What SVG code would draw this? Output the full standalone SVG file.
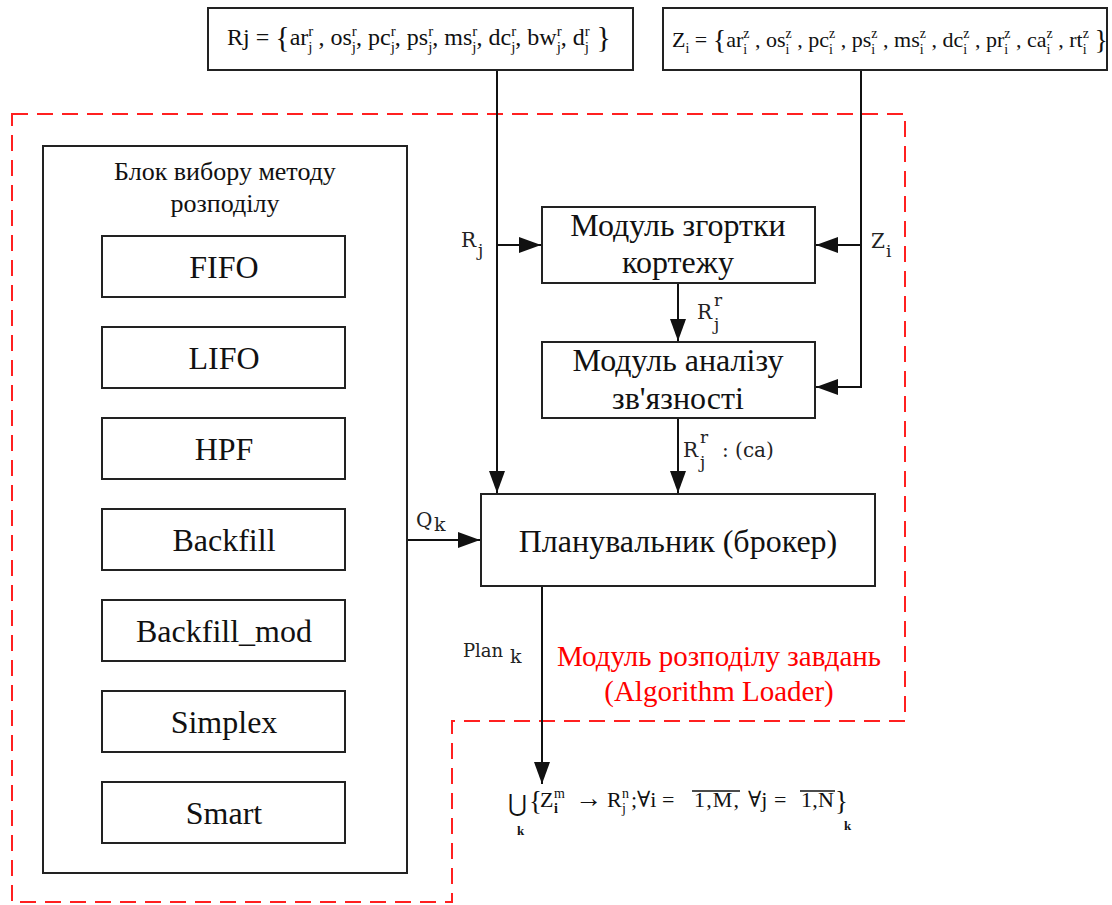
<svg xmlns="http://www.w3.org/2000/svg" width="1112" height="905" viewBox="0 0 1112 905">
<defs>
<style>
.box{fill:#fff;stroke:#222;stroke-width:2}
.ln{fill:none;stroke:#111;stroke-width:2}
</style>
<marker id="ah" viewBox="0 0 22 16" markerWidth="22" markerHeight="16" refX="22" refY="8" orient="auto" markerUnits="userSpaceOnUse">
<path d="M0,0 L22,8 L0,16 z" fill="#111"/>
</marker>
</defs>
<rect width="1112" height="905" fill="#fff"/>

<g id="boundary">
<path d="M12,114 L905,114 L905,721 L452,721 L452,902 L12,902 Z" fill="none" stroke="#ff2020" stroke-width="2" stroke-dasharray="16 9"/>
<text font-family="Liberation Serif, serif" fill="#ff0000" x="719" y="666" font-size="29" text-anchor="middle">Модуль розподілу завдань</text>
<text font-family="Liberation Serif, serif" fill="#ff0000" x="719" y="701" font-size="29" text-anchor="middle">(Algorithm Loader)</text>
</g>

<g id="connectors">
<path class="ln" d="M497,70 L497,493" marker-end="url(#ah)"/>
<path class="ln" d="M497,245 L541,245" marker-end="url(#ah)"/>
<path class="ln" d="M861,70 L861,387 L816,387" marker-end="url(#ah)"/>
<path class="ln" d="M861,245 L816,245" marker-end="url(#ah)"/>
<path class="ln" d="M678,283 L678,341" marker-end="url(#ah)"/>
<path class="ln" d="M678,418 L678,493" marker-end="url(#ah)"/>
<path class="ln" d="M407,540 L480,540" marker-end="url(#ah)"/>
<path class="ln" d="M542,586 L542,784" marker-end="url(#ah)"/>
<g font-family="DejaVu Serif, serif" fill="#222">
<text x="461" y="247" font-size="20">R</text><text x="478" y="256" font-size="17">j</text>
<text x="871" y="248" font-size="20">Z</text><text x="886" y="257" font-size="17">i</text>
<text x="697" y="319" font-size="20">R</text><text x="714" y="306" font-size="17">r</text><text x="714" y="330" font-size="17">j</text>
<text x="683" y="457" font-size="20">R</text><text x="700" y="443" font-size="17">r</text><text x="700" y="468" font-size="17">j</text>
<text x="722" y="457" font-size="20">: (ca)</text>
<text x="416" y="527" font-size="20">Q</text><text x="434" y="531" font-size="19">k</text>
<text x="463" y="657" font-size="18">Plan</text><text x="510" y="663" font-size="19">k</text>
</g>
</g>

<g id="rj-set">
<rect class="box" x="208" y="8" width="425" height="62"/>
<text font-family="Liberation Serif, serif" fill="#111" x="227" y="45" font-size="24">Rj = <tspan font-size="30" dy="2">{</tspan><tspan dy="-2">ar</tspan><tspan font-size="15" dy="-9">r</tspan><tspan font-size="15" dx="-5" dy="16">j</tspan><tspan dy="-7"> , os</tspan><tspan font-size="15" dy="-9">r</tspan><tspan font-size="15" dx="-5" dy="16">j</tspan><tspan dy="-7">, pc</tspan><tspan font-size="15" dy="-9">r</tspan><tspan font-size="15" dx="-5" dy="16">j</tspan><tspan dy="-7">, ps</tspan><tspan font-size="15" dy="-9">r</tspan><tspan font-size="15" dx="-5" dy="16">j</tspan><tspan dy="-7">, ms</tspan><tspan font-size="15" dy="-9">r</tspan><tspan font-size="15" dx="-5" dy="16">j</tspan><tspan dy="-7">, dc</tspan><tspan font-size="15" dy="-9">r</tspan><tspan font-size="15" dx="-5" dy="16">j</tspan><tspan dy="-7">, bw</tspan><tspan font-size="15" dy="-9">r</tspan><tspan font-size="15" dx="-5" dy="16">j</tspan><tspan dy="-7">, d</tspan><tspan font-size="15" dy="-9">r</tspan><tspan font-size="15" dx="-5" dy="16">j</tspan><tspan dy="-5" font-size="30"> }</tspan></text>
</g>

<g id="zi-set">
<rect class="box" x="663" y="8" width="444" height="62"/>
<text font-family="Liberation Serif, serif" fill="#111" x="672" y="47" font-size="22">Z<tspan font-size="14" dy="6">i</tspan><tspan dy="-6"> = </tspan><tspan font-size="28" dy="2">{</tspan><tspan dy="-2">ar</tspan><tspan font-size="14" dy="-9">z</tspan><tspan font-size="14" dx="-6.2" dy="16">i</tspan><tspan dx="2.3" dy="-7"> , os</tspan><tspan font-size="14" dy="-9">z</tspan><tspan font-size="14" dx="-6.2" dy="16">i</tspan><tspan dx="2.3" dy="-7"> , pc</tspan><tspan font-size="14" dy="-9">z</tspan><tspan font-size="14" dx="-6.2" dy="16">i</tspan><tspan dx="2.3" dy="-7"> , ps</tspan><tspan font-size="14" dy="-9">z</tspan><tspan font-size="14" dx="-6.2" dy="16">i</tspan><tspan dx="2.3" dy="-7"> , ms</tspan><tspan font-size="14" dy="-9">z</tspan><tspan font-size="14" dx="-6.2" dy="16">i</tspan><tspan dx="2.3" dy="-7"> , dc</tspan><tspan font-size="14" dy="-9">z</tspan><tspan font-size="14" dx="-6.2" dy="16">i</tspan><tspan dx="2.3" dy="-7"> , pr</tspan><tspan font-size="14" dy="-9">z</tspan><tspan font-size="14" dx="-6.2" dy="16">i</tspan><tspan dx="2.3" dy="-7"> , ca</tspan><tspan font-size="14" dy="-9">z</tspan><tspan font-size="14" dx="-6.2" dy="16">i</tspan><tspan dx="2.3" dy="-7"> , rt</tspan><tspan font-size="14" dy="-9">z</tspan><tspan font-size="14" dx="-6.2" dy="16">i</tspan><tspan dx="1" dy="-5" font-size="28"> }</tspan></text>
</g>

<g id="selector-block" font-family="Liberation Serif, serif" fill="#111">
<rect class="box" x="43" y="146" width="364" height="727"/>
<text x="225" y="180" font-size="26" text-anchor="middle">Блок вибору методу</text>
<text x="225" y="212" font-size="26" text-anchor="middle">розподілу</text>
</g>
<g font-family="Liberation Serif, serif" fill="#111" font-size="32" text-anchor="middle">
<g id="fifo"><rect class="box" x="102" y="236" width="243" height="61"/><text x="224" y="278">FIFO</text></g>
<g id="lifo"><rect class="box" x="102" y="327" width="243" height="61"/><text x="224" y="369">LIFO</text></g>
<g id="hpf"><rect class="box" x="102" y="418" width="243" height="61"/><text x="224" y="460">HPF</text></g>
<g id="backfill"><rect class="box" x="102" y="509" width="243" height="61"/><text x="224" y="551">Backfill</text></g>
<g id="backfill-mod"><rect class="box" x="102" y="600" width="243" height="61"/><text x="224" y="642">Backfill_mod</text></g>
<g id="simplex"><rect class="box" x="102" y="691" width="243" height="61"/><text x="224" y="733">Simplex</text></g>
<g id="smart"><rect class="box" x="102" y="782" width="243" height="61"/><text x="224" y="824">Smart</text></g>

<g id="tuple-module">
<rect class="box" x="542" y="207" width="273" height="76"/>
<text x="678" y="236">Модуль згортки</text>
<text x="678" y="273">кортежу</text>
</g>
<g id="connectivity-module">
<rect class="box" x="542" y="342" width="273" height="76"/>
<text x="678" y="371">Модуль аналізу</text>
<text x="678" y="409">зв'язності</text>
</g>
<g id="planner">
<rect class="box" x="481" y="494" width="394" height="92"/>
<text x="678" y="552">Планувальник (брокер)</text>
</g>
</g>

<g id="result" font-family="Liberation Serif, DejaVu Serif, serif" fill="#111">
<text x="508" y="811" font-size="23">⋃</text>
<text x="517" y="835" font-size="13" font-weight="bold">k</text>
<text x="529" y="810" font-size="27">{</text>
<text x="540" y="807" font-size="22">Z</text>
<text x="554" y="798" font-size="14">m</text>
<text x="554" y="813" font-size="14" font-weight="bold">i</text>
<text x="575" y="807" font-size="27">→</text>
<text x="607" y="807" font-size="22">R</text>
<text x="622" y="798" font-size="14">n</text>
<text x="622" y="813" font-size="14">j</text>
<text x="631" y="807" font-size="22">;</text>
<text x="637" y="807" font-size="22">∀i</text>
<text x="662" y="807" font-size="22">=</text>
<text x="694" y="807" font-size="22" textLength="45" lengthAdjust="spacing">1,M,</text>
<line x1="692" y1="791" x2="740" y2="791" stroke="#111" stroke-width="1.5"/>
<text x="748" y="807" font-size="22">∀j</text>
<text x="774" y="807" font-size="22">=</text>
<text x="801" y="807" font-size="22" textLength="33" lengthAdjust="spacing">1,N</text>
<line x1="800" y1="791" x2="835" y2="791" stroke="#111" stroke-width="1.5"/>
<text x="835" y="810" font-size="27">}</text>
<text x="844" y="830" font-size="13" font-weight="bold">k</text>
</g>
</svg>
